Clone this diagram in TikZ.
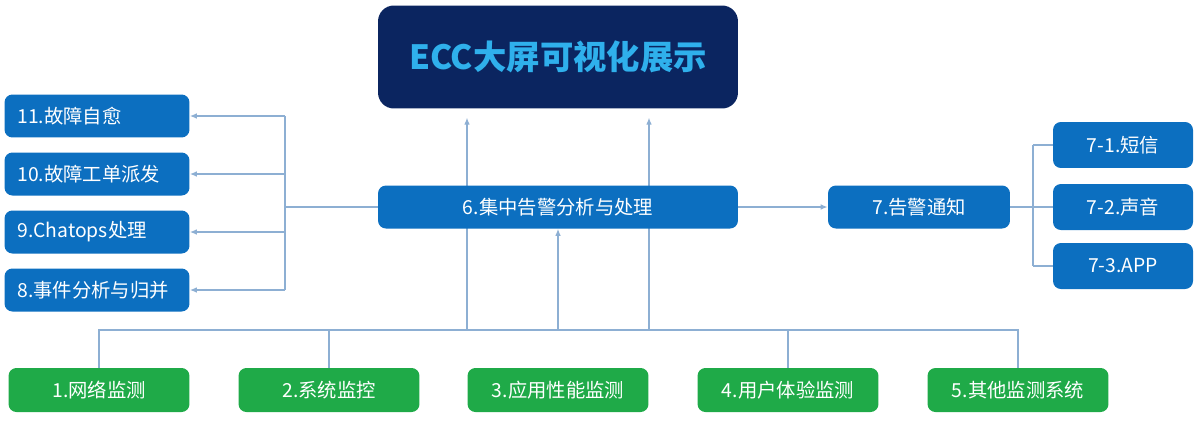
\documentclass[tikz,border=0pt]{standalone}
\usepackage{fontspec}
\setmainfont{Noto Sans CJK SC}
\usepackage{tikz}
\usetikzlibrary{arrows.meta,backgrounds}

\definecolor{navy}{HTML}{0B2560}
\definecolor{titleblue}{HTML}{2FB0EC}
\definecolor{boxblue}{HTML}{0C6FC0}
\definecolor{boxgreen}{HTML}{1FAA48}
\definecolor{linkblue}{HTML}{8DAFD3}

\begin{document}
\begin{tikzpicture}[x=0.02cm,y=-0.02cm,
	box/.style={fill=boxblue,text=white,rounded corners=4.5pt,inner sep=0pt,font=\fontsize{11}{13}\selectfont},
	leftbox/.style={box,minimum width=3.7cm,minimum height=0.86cm,text width=3.18cm,inner xsep=0.26cm,align=left},
	sidebox/.style={box,minimum width=2.8cm,minimum height=0.92cm},
	greenbox/.style={box,fill=boxgreen,minimum width=3.62cm,minimum height=0.88cm},
	link/.style={draw=linkblue,line width=0.7pt},
	arr/.style={link,-{Latex[length=4pt,width=3.2pt]}}]

	\useasboundingbox (0,0) rectangle (1200,423);

	\node[box,fill=navy,text=titleblue,rounded corners=9pt,minimum width=7.2cm,minimum height=2.06cm,font=\fontsize{19}{22}\selectfont\bfseries] (ecc) at (558,57) {ECC大屏可视化展示};
	\node[box,minimum width=7.2cm,minimum height=0.86cm] (alarm) at (558,207) {6.集中告警分析与处理};
	\node[box,minimum width=3.64cm,minimum height=0.86cm] (notify) at (919,207) {7.告警通知};

	\node[leftbox] (heal) at (97,116) {11.故障自愈};
	\node[leftbox] (ticket) at (97,174) {10.故障工单派发};
	\node[leftbox] (chatops) at (97,232) {9.Chatops处理};
	\node[leftbox] (event) at (97,290) {8.事件分析与归并};

	\node[sidebox] (sms) at (1123,145) {7-1.短信};
	\node[sidebox] (sound) at (1123,207) {7-2.声音};
	\node[sidebox] (app) at (1123,266) {7-3.APP};

	\node[greenbox] (net) at (99,390) {1.网络监测};
	\node[greenbox] (sys) at (329,390) {2.系统监控};
	\node[greenbox] (apm) at (558,390) {3.应用性能监测};
	\node[greenbox] (ux) at (788,390) {4.用户体验监测};
	\node[greenbox] (other) at (1018,390) {5.其他监测系统};

	\coordinate (bus) at (558,330);
	\coordinate (upl) at (467,330);
	\coordinate (upr) at (649,330);
	\coordinate (lbus) at (285,207);
	\coordinate (rbus) at (1033,207);

	\begin{scope}[on background layer]
		\draw[arr,shorten >=5pt] (upl) -- (upl |- ecc.south);
		\draw[arr,shorten >=5pt] (upr) -- (upr |- ecc.south);
	\end{scope}

	\draw[link] (net) -- (net |- bus) -- (other |- bus) -- (other);
	\draw[link] (sys) -- (sys |- bus);
	\draw[link] (ux) -- (ux |- bus);
	\draw[arr] (bus) -- (alarm.south);

	\draw[link] (alarm.west) -- (lbus);
	\draw[link] (lbus |- heal) -- (lbus |- event);
	\draw[arr] (lbus |- heal) -- (heal.east);
	\draw[arr] (lbus |- ticket) -- (ticket.east);
	\draw[arr] (lbus |- chatops) -- (chatops.east);
	\draw[arr] (lbus |- event) -- (event.east);

	\draw[arr] (alarm.east) -- (notify.west);
	\draw[link] (notify.east) -- (rbus);
	\draw[link] (rbus |- sms) -- (rbus |- app);
	\draw[link] (rbus |- sms) -- (sms.west);
	\draw[link] (rbus) -- (sound.west);
	\draw[link] (rbus |- app) -- (app.west);

\end{tikzpicture}
\end{document}
